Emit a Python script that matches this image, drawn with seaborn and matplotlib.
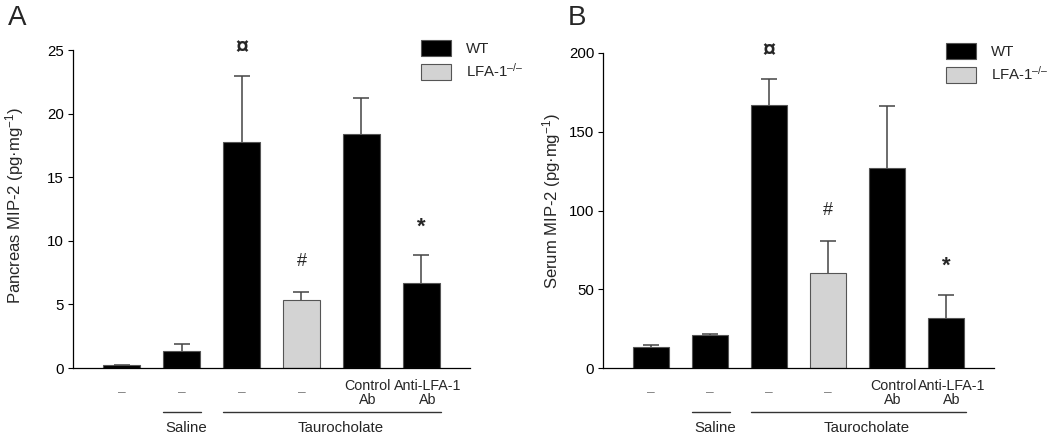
import matplotlib
matplotlib.use('Agg')
import matplotlib.pyplot as plt
import matplotlib.transforms as mtransforms
from matplotlib.patches import Patch
import seaborn as sns
import numpy as np
import pandas as pd

# ─── data ────────────────────────────────────────────────────────────────────
bar_ids = ['b1', 'b2', 'b3', 'b4', 'b5', 'b6']
genotype = ['WT', 'WT', 'WT', 'LFA', 'WT', 'WT']
treat_labels = ['–', '–', '–', '–', 'Control\nAb', 'Anti-LFA-1\nAb']

pancreas_mean = [0.2, 1.36, 17.8, 5.32, 18.42, 6.66]
pancreas_err = [0.05, 0.53, 5.13, 0.63, 2.78, 2.22]
pancreas_marks = ['', '', '¤', '#', '', '*']
pancreas_mark_y = [0, 0, 25.2, 8.4, 0, 11.1]

serum_mean = [13.5, 21.3, 166.7, 60.4, 126.9, 31.7]
serum_err = [1.1, 0.6, 16.8, 20.1, 39.1, 14.8]
serum_marks = ['', '', '¤', '#', '', '*']
serum_mark_y = [0, 0, 201.3, 99.7, 0, 65.0]

sns.set_style('ticks')
plt.rcParams['font.family'] = ['Liberation Sans', 'DejaVu Sans']
plt.rcParams['mathtext.fontset'] = 'custom'
plt.rcParams['mathtext.rm'] = 'Liberation Sans'
plt.rcParams['mathtext.it'] = 'Liberation Sans:italic'

palette = {'WT': '#000000', 'LFA': '#d3d3d3'}
mark_size = {'¤': 17, '#': 13, '*': 16}
W, H = 1061, 437


def draw_panel(ax, means, errs, marks, mark_y, ymax, step, ylabel, label_xy):
    df = pd.DataFrame({'bar': bar_ids, 'val': means, 'grp': genotype})
    sns.barplot(data=df, x='bar', y='val', hue='grp', order=bar_ids, dodge=False,
                palette=palette, saturation=1, width=0.62, errorbar=None,
                edgecolor='#555555', linewidth=0.8, legend=False, ax=ax)
    eb = ax.errorbar(np.arange(6), means, yerr=[np.zeros(6), errs], fmt='none',
                     ecolor='#444444', elinewidth=1.1, capsize=6, capthick=1.1)
    # only the upper cap is drawn in the original
    eb[1][0].set_visible(False)
    ax.set_xlim(-0.81, 5.81)
    ax.set_ylim(0, ymax)
    ax.set_yticks(np.arange(0, ymax + 1, step))
    ax.tick_params(axis='y', length=3.8, width=0.8, pad=2.8, labelsize=10.8, colors='black')
    ax.tick_params(axis='x', length=0, labelbottom=False)
    ax.set_xlabel('')
    ax.set_ylabel(ylabel, fontsize=12)
    ax.yaxis.set_label_coords(*label_xy)
    for s in ['top', 'right']:
        ax.spines[s].set_visible(False)
    for s in ['left', 'bottom']:
        ax.spines[s].set_linewidth(0.9)
        ax.spines[s].set_color('black')

    fig = ax.figure
    for i, m in enumerate(marks):
        if m:
            ax.text(i, mark_y[i], m, ha='center', va='center', fontsize=mark_size[m],
                    fontweight='bold' if m != '#' else 'normal')

    # treatment labels under the bars
    for i, t in enumerate(treat_labels):
        if t == '–':
            tr = mtransforms.offset_copy(ax.get_xaxis_transform(), fig=fig, x=0, y=-24, units='dots')
            ax.text(i, 0, t, transform=tr, ha='center', va='center', fontsize=10, color='#888888')
        else:
            tr = mtransforms.offset_copy(ax.get_xaxis_transform(), fig=fig, x=6, y=-25, units='dots')
            ax.text(i, 0, t, transform=tr, ha='center', va='center', fontsize=10.3,
                    linespacing=1.0, multialignment='center')

    # group brackets
    tr_line = mtransforms.offset_copy(ax.get_xaxis_transform(), fig=fig, x=0, y=-44, units='dots')
    ax.plot([1 - 0.31, 1 + 0.33], [0, 0], color='#333333', lw=1, transform=tr_line, clip_on=False)
    ax.plot([2 - 0.31, 5 + 0.33], [0, 0], color='#333333', lw=1, transform=tr_line, clip_on=False)
    tr_txt = mtransforms.offset_copy(ax.get_xaxis_transform(), fig=fig, x=0, y=-60, units='dots')
    ax.text(1.08, 0, 'Saline', transform=tr_txt, ha='center', va='center', fontsize=10.8)
    ax.text(3.65, 0, 'Taurocholate', transform=tr_txt, ha='center', va='center', fontsize=10.8)

    handles = [Patch(facecolor='#000000', edgecolor='#555555', lw=0.8),
               Patch(facecolor='#d3d3d3', edgecolor='#555555', lw=0.8)]
    ax.legend(handles, ['WT', r'LFA-1$^{\mathregular{–/–}}$'], loc='upper left',
              bbox_to_anchor=(0.876, 1.03), frameon=False, fontsize=10.8,
              handlelength=2.0, handleheight=1.2, labelspacing=0.4,
              handletextpad=1.0, borderpad=0, borderaxespad=0)


fig = plt.figure(figsize=(W / 100, H / 100), dpi=100)
axA = fig.add_axes([73 / W, 1 - 368 / H, 397 / W, 318 / H])
axB = fig.add_axes([603.3 / W, 1 - 368.3 / H, 390.7 / W, 315.6 / H])

draw_panel(axA, pancreas_mean, pancreas_err, pancreas_marks, pancreas_mark_y, 25, 5,
           r'Pancreas MIP-2 (pg·mg$^{\mathregular{-1}}$)', (-0.118, 0.51))
draw_panel(axB, serum_mean, serum_err, serum_marks, serum_mark_y, 200, 50,
           r'Serum MIP-2 (pg·mg$^{\mathregular{-1}}$)', (-0.103, 0.53))

fig.text(8 / W, 1 - 25 / H, 'A', fontsize=20, ha='left', va='baseline')
fig.text(568 / W, 1 - 25 / H, 'B', fontsize=20, ha='left', va='baseline')

fig.savefig('out.png', dpi=100)
